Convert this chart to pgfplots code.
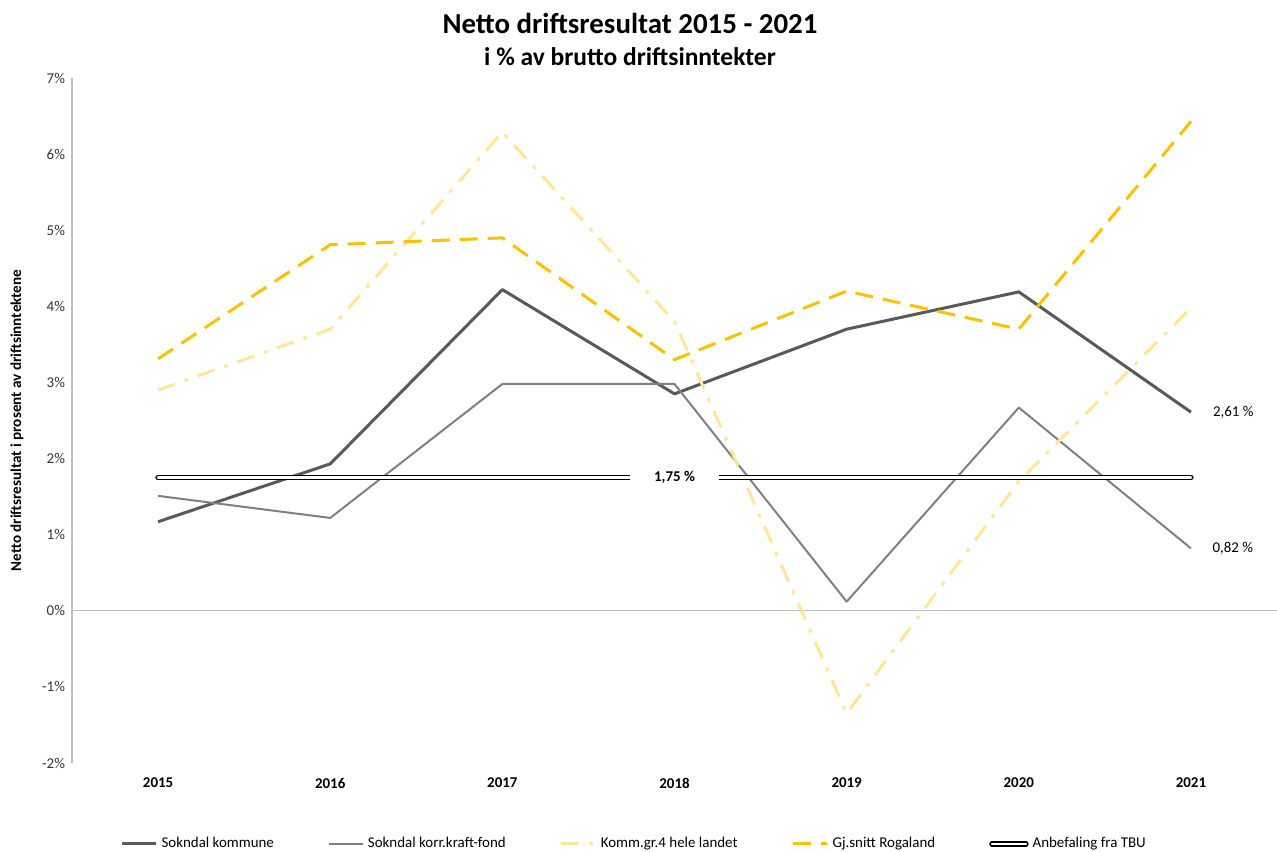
\documentclass[border=0pt]{standalone}
\usepackage{fontspec}
\setmainfont{Carlito}
\usepackage{pgfplots}
\pgfplotsset{compat=1.18}
\definecolor{cKom}{HTML}{595959}
\definecolor{cKorr}{HTML}{808080}
\definecolor{cKg}{HTML}{FFE699}
\definecolor{cRog}{HTML}{FFC000}
\definecolor{cAx}{HTML}{BFBFBF}
\begin{document}
\begin{tikzpicture}[x=1bp,y=1bp]
\useasboundingbox (-36,-44) rectangle (602.5,381.5);
\begin{axis}[
  at={(0,0)}, anchor=south west,
  scale only axis, width=602.5bp, height=342.5bp,
  xmin=-0.5, xmax=6.5, ymin=-2, ymax=7,
  xtick={0,1,2,3,4,5,6},
  xticklabels={2015,2016,2017,2018,2019,2020,2021},
  x tick label style={font=\fontsize{7.5}{9}\selectfont\bfseries, yshift=-4bp},
  ytick={-2,-1,0,1,2,3,4,5,6,7},
  yticklabels={-2\%,-1\%,0\%,1\%,2\%,3\%,4\%,5\%,6\%,7\%},
  y tick label style={font=\fontsize{7.5}{9}\selectfont, text=black!80},
  major tick length=0pt,
  axis lines*=left,
  x axis line style={draw=none},
  y axis line style={draw=cAx, line width=0.6bp},
  ylabel={Netto driftsresultat i prosent av driftsinntektene},
  ylabel style={font=\fontsize{7.6}{9}\selectfont\bfseries, yshift=2.5bp},
  legend columns=5,
  legend style={draw=none, fill=none, at={(rel axis cs:0.035,-0.118)}, anchor=west,
    font=\fontsize{7.5}{9}\selectfont, /tikz/every even column/.append style={column sep=25bp}},
  legend cell align=left,
  clip=false,
]
\draw[cAx, line width=0.6bp] (axis cs:-0.5,0) -- (axis cs:6.5,0);
\addplot[cKom, line width=1.5bp, line join=round] coordinates {
 (0,1.17) (1,1.93) (2,4.22) (3,2.85) (4,3.70) (5,4.19) (6,2.61)}
 node[pos=1, anchor=west, xshift=7bp, text=black, font=\fontsize{7.5}{9}\selectfont] {2,61 \%};
\addlegendentry{Sokndal kommune}
\addplot[cKorr, line width=1bp, line join=round] coordinates {
 (0,1.51) (1,1.22) (2,2.98) (3,2.98) (4,0.12) (5,2.67) (6,0.82)}
 node[pos=1, anchor=west, xshift=7bp, text=black, font=\fontsize{7.5}{9}\selectfont] {0,82 \%};
\addlegendentry{Sokndal korr.kraft-fond}
\addplot[cKg, line width=1.5bp, dash pattern=on 9bp off 5bp on 2bp off 5bp] coordinates {
 (0,2.90) (1,3.70) (2,6.29) (3,3.80) (4,-1.35) (5,1.70) (6,3.98)};
\addlegendentry{Komm.gr.4 hele landet}
\addplot[cRog, line width=1.5bp, dash pattern=on 9bp off 5bp] coordinates {
 (0,3.31) (1,4.81) (2,4.90) (3,3.30) (4,4.20) (5,3.70) (6,6.43)};
\addlegendentry{Gj.snitt Rogaland}
\addplot[black, line width=0.7bp, double=white, double distance=1.3bp, line cap=round] coordinates {
 (0,1.75) (3,1.75) (6,1.75)}
 node[pos=0.5, fill=white, inner xsep=12bp, inner ysep=1bp, text=black, font=\fontsize{7.5}{9}\selectfont\bfseries] {1,75 \%};
\addlegendentry{Anbefaling fra TBU}
\end{axis}
\node[font=\fontsize{14.5}{17}\selectfont\bfseries] at (279,370) {Netto driftsresultat 2015 - 2021};
\node[font=\fontsize{12.8}{15}\selectfont\bfseries] at (279,353) {i \% av brutto driftsinntekter};
\end{tikzpicture}
\end{document}
